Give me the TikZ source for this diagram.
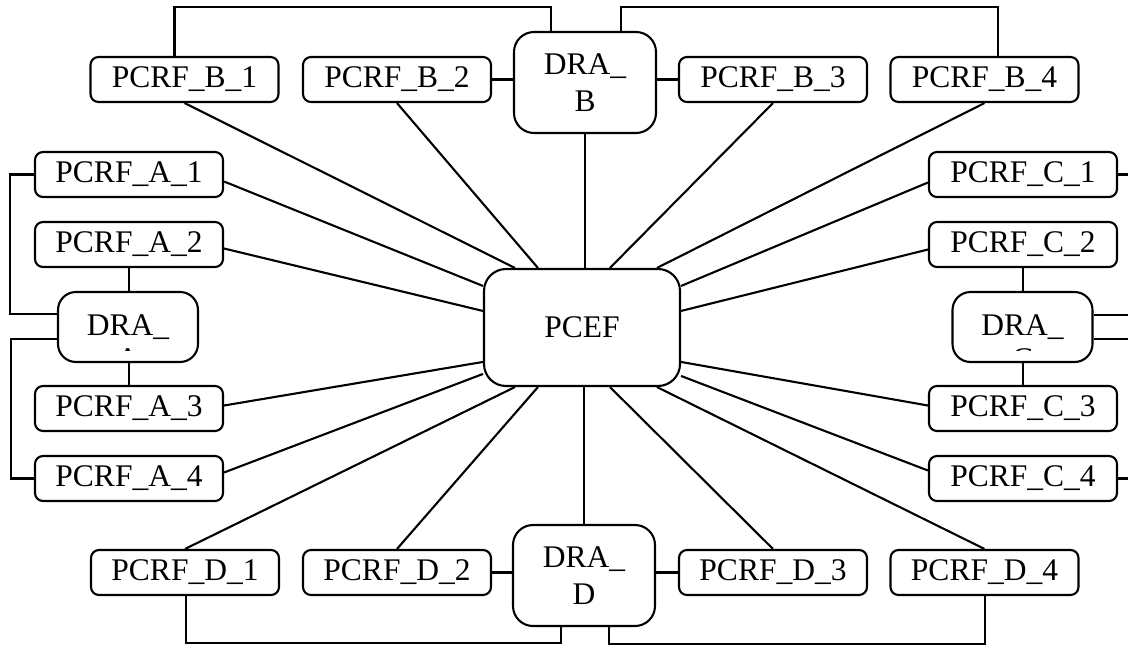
\documentclass[tikz,border=0pt]{standalone}
\usepackage{fontspec}
\setmainfont{Liberation Serif}
\usetikzlibrary{calc}
\begin{document}
\begin{tikzpicture}[x=1pt,y=-1pt,line width=2.1pt,
  txt/.style={font=\fontsize{31.5}{37}\selectfont},
  pcrf/.style={txt,draw,rounded corners=8,minimum width=188,minimum height=45,inner sep=0},
  drabox/.style={txt,draw,rounded corners=20,minimum width=142,minimum height=101,inner sep=0,align=center},
  drasmall/.style={txt,draw,rounded corners=18,minimum width=140,minimum height=70,inner sep=0},
  core/.style={txt,draw,rounded corners=22,minimum width=196,minimum height=117,inner sep=0}]
\useasboundingbox (0,0) rectangle (1128,646);
\clip (0,0) rectangle (1128,646);
% nodes
\node[core] (pcef) at (582,327.5) {PCEF};
\node[pcrf] (b1) at (184.5,79.5) {PCRF\_B\_1};
\node[pcrf] (b2) at (397,79.5) {PCRF\_B\_2};
\node[pcrf] (b3) at (773,79.5) {PCRF\_B\_3};
\node[pcrf] (b4) at (984.5,79.5) {PCRF\_B\_4};
\node[drabox] (drab) at (585,82.5) {DRA\_\\B};
\node[pcrf] (d1) at (185,572.5) {PCRF\_D\_1};
\node[pcrf] (d2) at (397,572.5) {PCRF\_D\_2};
\node[pcrf] (d3) at (773,572.5) {PCRF\_D\_3};
\node[pcrf] (d4) at (984.5,572.5) {PCRF\_D\_4};
\node[drabox] (drad) at (584,575.5) {DRA\_\\D};
\node[pcrf] (a1) at (129,174.5) {PCRF\_A\_1};
\node[pcrf] (a2) at (129,244.5) {PCRF\_A\_2};
\node[pcrf] (a3) at (129,408.5) {PCRF\_A\_3};
\node[pcrf] (a4) at (129,478.5) {PCRF\_A\_4};
\node[drasmall] (draa) at (128,327) {DRA\_};
\node[pcrf] (c1) at (1023,174.5) {PCRF\_C\_1};
\node[pcrf] (c2) at (1023,244.5) {PCRF\_C\_2};
\node[pcrf] (c3) at (1023,408.5) {PCRF\_C\_3};
\node[pcrf] (c4) at (1023,478.5) {PCRF\_C\_4};
\node[drasmall] (drac) at (1022.5,327) {DRA\_};
% clipped second lines of DRA_A and DRA_C
\begin{scope}
\clip (60,280) rectangle (1100,350.2);
\node[txt,inner sep=0] (draaA) at ($(draa.center)+(0,32)$) {A};
\node[txt,inner sep=0] (dracC) at ($(drac.center)+(0,32)$) {C};
\end{scope}
% end points on PCEF
\coordinate (t1) at ($(pcef.north west)+(32,0)$);
\coordinate (t2) at ($(pcef.north west)+(55,0)$);
\coordinate (t3) at ($(pcef.north west)+(127,0)$);
\coordinate (t4) at ($(pcef.north west)+(174,0)$);
\coordinate (s1) at ($(pcef.south west)+(32,0)$);
\coordinate (s2) at ($(pcef.south west)+(55,0)$);
\coordinate (s3) at ($(pcef.south west)+(127,0)$);
\coordinate (s4) at ($(pcef.south west)+(174,0)$);
\coordinate (w1) at ($(pcef.north west)+(0,18)$);
\coordinate (w2) at ($(pcef.north west)+(0,43)$);
\coordinate (w3) at ($(pcef.north west)+(0,94)$);
\coordinate (w4) at ($(pcef.north west)+(0,106)$);
\coordinate (e1) at ($(pcef.north east)+(0,18)$);
\coordinate (e2) at ($(pcef.north east)+(0,43)$);
\coordinate (e3) at ($(pcef.north east)+(0,94)$);
\coordinate (e4) at ($(pcef.north east)+(0,108)$);
% spokes
\draw (b1.south) -- (t1);
\draw (b2.south) -- (t2);
\draw (drab.south) -- (drab.south |- pcef.north);
\draw (b3.south) -- (t3);
\draw (b4.south) -- (t4);
\draw (d1.north) -- (s1);
\draw (d2.north) -- (s2);
\draw (drad.north) -- (drad.north |- pcef.south);
\draw (d3.north) -- (s3);
\draw (d4.north) -- (s4);
\draw ($(a1.east)+(0,7)$) -- (w1);
\draw ($(a2.east)+(0,4)$) -- (w2);
\draw ($(draa.east)+(0,12)$) -- ($(draa.east)+(0,12)$ -| pcef.west);
\draw ($(a3.east)+(0,-3)$) -- (w3);
\draw ($(a4.east)+(0,-6)$) -- (w4);
\draw ($(c1.west)+(0,8)$) -- (e1);
\draw ($(c2.west)+(0,5)$) -- (e2);
\draw ($(drac.west)+(0,12)$) -- ($(drac.west)+(0,12)$ -| pcef.east);
\draw ($(c3.west)+(0,-3)$) -- (e3);
\draw ($(c4.west)+(0,-8)$) -- (e4);
% group links
\draw (b2.east) -- (b2.east -| drab.west);
\draw (drab.east |- b3.west) -- (b3.west);
\draw (d2.east) -- (d2.east -| drad.west);
\draw (drad.east |- d3.west) -- (d3.west);
\draw (a2.south) -- (a2.south |- draa.north);
\draw (a3.north) -- (a3.north |- draa.south);
\draw (c2.south) -- (c2.south |- drac.north);
\draw (c3.north) -- (c3.north |- drac.south);
% brackets
\draw ($(b1.north)+(-10,0)$) -- ++(0,-49) -| ($(drab.north west)+(38,0)$);
\draw ($(drab.north west)+(108,0)$) -- ++(0,-24) -| ($(b4.north)+(13.5,0)$);
\draw ($(d1.south)+(1,0)$) -- ++(0,47) -| ($(drad.south west)+(49,0)$);
\draw ($(drad.south west)+(97,0)$) -- ++(0,17) -| ($(d4.south)+(0.5,0)$);
\draw (a1.west) -- ++(-24,0) |- ($(draa.west)+(0,-13)$);
\draw ($(draa.west)+(0,12)$) -- ++(-46,0) |- (a4.west);
\draw (c1.east) -- ++(24,0) |- ($(drac.east)+(0,-12)$);
\draw ($(drac.east)+(0,12)$) -- ++(48,0) |- (c4.east);
\end{tikzpicture}
\end{document}
